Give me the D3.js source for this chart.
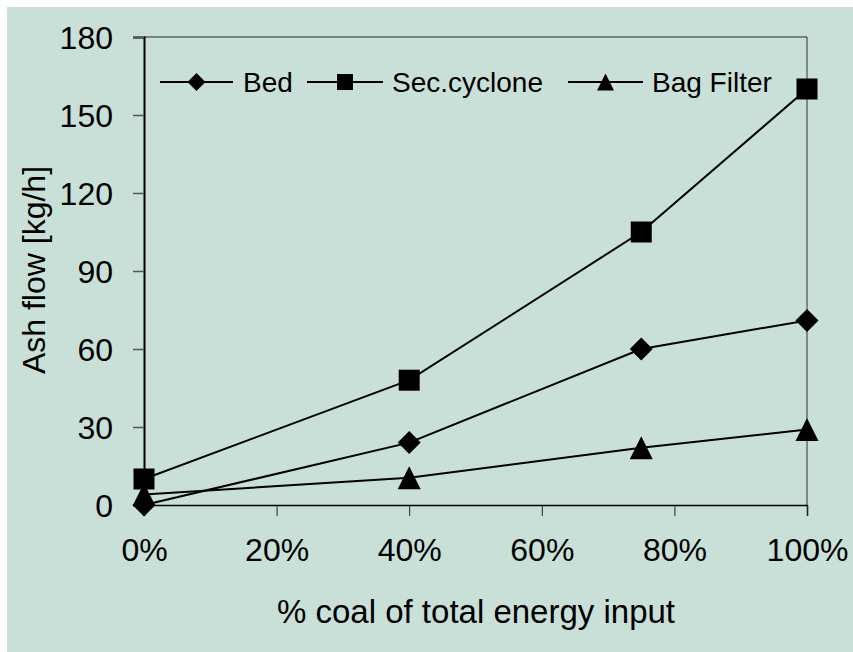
<!DOCTYPE html>
<html>
<head>
<meta charset="utf-8">
<script src="https://cdn.jsdelivr.net/npm/d3@7/dist/d3.min.js"></script>
<style>
  html, body { margin: 0; padding: 0; background: #ffffff; }
  svg { display: block; font-family: "Liberation Sans", Arial, sans-serif; }
</style>
</head>
<body>
<svg id="chart" width="853" height="652"></svg>
<script>
// Share of coal in the total energy input (%)
const coalShare = [0, 40, 75, 100];
// Ash flows per outlet (kg/h)
const bedAsh = [0, 24, 60, 71];
const cycloneAsh = [10, 48, 105, 160];
const bagFilterAsh = [4, 10.5, 22, 29];
const seriesNames = ["Bed", "Sec.cyclone", "Bag Filter"];
const yTicks = [0, 30, 60, 90, 120, 150, 180];
const xTicks = [0, 20, 40, 60, 80, 100];

const svg = d3.select("#chart");
const W = 853, H = 652;
const plot = { left: 144, right: 807, top: 37, bottom: 505 };

// Background panel
svg.append("rect").attr("x", 7).attr("y", 7).attr("width", W - 7).attr("height", H - 7)
  .attr("fill", "#c9e0d8");

const x = d3.scaleLinear().domain([0, 100]).range([plot.left, plot.right]);
const y = d3.scaleLinear().domain([0, 180]).range([plot.bottom, plot.top]);

// Marker shapes centred on the origin
const markers = {
  diamond: s => `M0,${-s}L${s},0L0,${s}L${-s},0Z`,
  square: s => `M${-s},${-s}H${s}V${s}H${-s}Z`,
  triangle: s => `M0,${-s}L${s},${s}L${-s},${s}Z`
};

// Plot frame: grey top/right, black axes left/bottom
svg.append("line").attr("x1", plot.left).attr("x2", plot.right).attr("y1", plot.top).attr("y2", plot.top)
  .attr("stroke", "#5a6660").attr("stroke-width", 1.5);
svg.append("line").attr("x1", plot.right).attr("x2", plot.right).attr("y1", plot.top).attr("y2", plot.bottom)
  .attr("stroke", "#333").attr("stroke-width", 1);

// Y axis
const yAxis = d3.axisLeft(y).tickValues(yTicks).tickSize(11).tickPadding(20).tickFormat(d3.format("d"));
const gy = svg.append("g").attr("transform", `translate(${plot.left},0)`).call(yAxis);
gy.select(".domain").attr("stroke", "#000").attr("stroke-width", 2);
gy.selectAll(".tick line").attr("stroke", "#555").attr("stroke-width", 1.5);
gy.selectAll(".tick text").attr("font-size", 32).attr("fill", "#000")
  .attr("font-family", "Liberation Sans, Arial, sans-serif").attr("dy", "0.36em");

// X axis
const xAxis = d3.axisBottom(x).tickValues(xTicks).tickSize(11).tickPadding(22).tickFormat(d => d + "%");
const gx = svg.append("g").attr("transform", `translate(0,${plot.bottom})`).call(xAxis);
gx.select(".domain").attr("stroke", "#000").attr("stroke-width", 1.5);
gx.selectAll(".tick line").attr("stroke", "#222").attr("stroke-width", 1);
gx.selectAll(".tick text").attr("font-size", 32).attr("fill", "#000")
  .attr("font-family", "Liberation Sans, Arial, sans-serif").attr("dy", "0.71em");

// Axis titles
svg.append("text").attr("x", 476).attr("y", 623).attr("text-anchor", "middle")
  .attr("font-size", 33).attr("fill", "#000").text("% coal of total energy input");
svg.append("text").attr("transform", "translate(45,270) rotate(-90)").attr("text-anchor", "middle")
  .attr("font-size", 32).attr("fill", "#000").text("Ash flow [kg/h]");

// Series
const series = [
  { name: seriesNames[0], values: bedAsh, shape: "diamond", size: 11.5, legendSize: 9 },
  { name: seriesNames[1], values: cycloneAsh, shape: "square", size: 10.5, legendSize: 8 },
  { name: seriesNames[2], values: bagFilterAsh, shape: "triangle", size: 11.5, legendSize: 8.5 }
];

const line = d3.line().x(d => x(d[0])).y(d => y(d[1]));

series.forEach(s => {
  const pts = coalShare.map((c, i) => [c, s.values[i]]);
  svg.append("path").attr("d", line(pts)).attr("fill", "none")
    .attr("stroke", "#000").attr("stroke-width", 2);
});
series.forEach(s => {
  coalShare.forEach((c, i) => {
    svg.append("path").attr("d", markers[s.shape](s.size))
      .attr("transform", `translate(${x(c)},${y(s.values[i])})`).attr("fill", "#000");
  });
});

// Legend
const legendY = 82;
const legendItems = [
  { lineX: [160, 233], textX: 243 },
  { lineX: [307, 383], textX: 392 },
  { lineX: [568, 643], textX: 652 }
];
series.forEach((s, i) => {
  const it = legendItems[i];
  const g = svg.append("g");
  g.append("line").attr("x1", it.lineX[0]).attr("x2", it.lineX[1]).attr("y1", legendY).attr("y2", legendY)
    .attr("stroke", "#000").attr("stroke-width", 2);
  g.append("path").attr("d", markers[s.shape](s.legendSize))
    .attr("transform", `translate(${(it.lineX[0] + it.lineX[1]) / 2},${legendY})`).attr("fill", "#000");
  g.append("text").attr("x", it.textX).attr("y", legendY).attr("dy", "0.36em")
    .attr("font-size", 28).attr("fill", "#000").text(s.name);
});
</script>
</body>
</html>
